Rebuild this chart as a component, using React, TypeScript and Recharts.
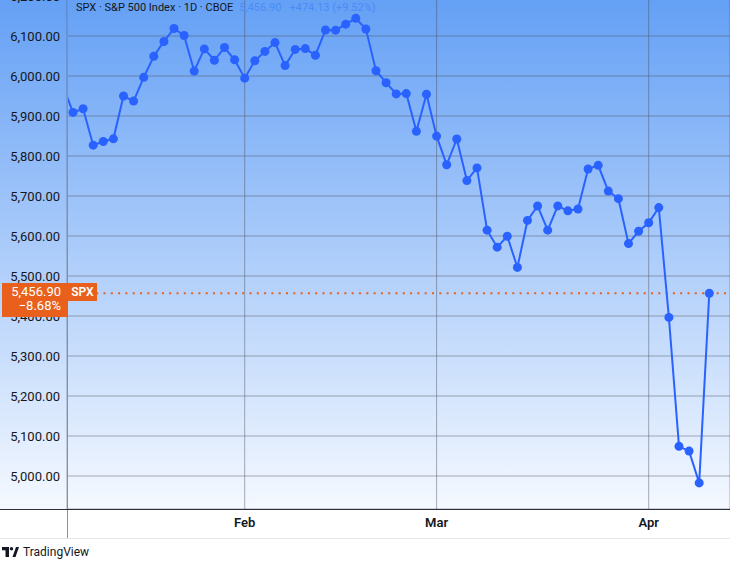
import React from "react";
import { LineChart, Line, XAxis, YAxis, CartesianGrid, ReferenceLine } from "recharts";

// SPX daily closes, Jan 6 – Apr 9 2025
const DATES = [
  "Jan 6", "Jan 7", "Jan 8", "Jan 10", "Jan 13", "Jan 14", "Jan 15", "Jan 16", "Jan 17",
  "Jan 21", "Jan 22", "Jan 23", "Jan 24", "Jan 27", "Jan 28", "Jan 29", "Jan 30", "Jan 31",
  "Feb 3", "Feb 4", "Feb 5", "Feb 6", "Feb 7", "Feb 10", "Feb 11", "Feb 12", "Feb 13",
  "Feb 14", "Feb 18", "Feb 19", "Feb 20", "Feb 21", "Feb 24", "Feb 25", "Feb 26", "Feb 27",
  "Feb 28", "Mar 3", "Mar 4", "Mar 5", "Mar 6", "Mar 7", "Mar 10", "Mar 11", "Mar 12",
  "Mar 13", "Mar 14", "Mar 17", "Mar 18", "Mar 19", "Mar 20", "Mar 21", "Mar 24", "Mar 25",
  "Mar 26", "Mar 27", "Mar 28", "Mar 31", "Apr 1", "Apr 2", "Apr 3", "Apr 4", "Apr 7",
  "Apr 8", "Apr 9",
];

const CLOSES = [
  5975.38, 5909.03, 5918.25, 5827.04, 5836.22, 5842.91, 5949.91, 5937.34, 5996.66,
  6049.24, 6086.37, 6118.71, 6101.24, 6012.28, 6067.7, 6039.31, 6071.17, 6040.53,
  5994.57, 6037.88, 6061.48, 6083.57, 6025.99, 6066.44, 6068.5, 6051.97, 6115.07,
  6114.63, 6129.58, 6144.15, 6117.52, 6013.13, 5983.25, 5955.25, 5956.06, 5861.57,
  5954.5, 5849.72, 5778.15, 5842.63, 5738.52, 5770.2, 5614.56, 5572.07, 5599.3,
  5521.52, 5638.94, 5675.12, 5614.66, 5675.29, 5662.89, 5667.56, 5767.57, 5776.65,
  5712.2, 5693.31, 5580.94, 5611.85, 5633.07, 5670.97, 5396.52, 5074.08, 5062.25,
  4982.77, 5456.9,
];

const MONTH_STARTS = ["Feb 3", "Mar 3", "Apr 1"];
const MONTH_LABELS = ["Feb", "Mar", "Apr"];

const PRICE_TICKS = [5000, 5100, 5200, 5300, 5400, 5500, 5600, 5700, 5800, 5900, 6000, 6100, 6200];

const data = CLOSES.map((close, i) => ({ i, date: DATES[i], close }));
const monthTicks = MONTH_STARTS.map((d) => DATES.indexOf(d));

const last = CLOSES[CLOSES.length - 1];
const prev = CLOSES[CLOSES.length - 2];
const dayChange = last - prev;
const dayPct = (dayChange / prev) * 100;
const rangePct = (last / CLOSES[0] - 1) * 100;

const ORANGE = "#e8601c";
const BLUE = "#2962ff";
const FONT = "Roboto, 'Noto Sans', sans-serif";

// chart geometry (chart is shifted up so the 6,200 tick sits at the top edge)
const CHART_TOP = -20;
const PLOT_H = 529;
const Y_DOMAIN = [4917.5, 6240];
const AXIS_W = 67;
// page y of last price, from the same linear y scale
const lastY = CHART_TOP + ((Y_DOMAIN[1] - last) / (Y_DOMAIN[1] - Y_DOMAIN[0])) * PLOT_H;

const fmt = (v: number) =>
  v.toLocaleString("en-US", { minimumFractionDigits: 2, maximumFractionDigits: 2 });

export default function App() {
  return (
    <div style={{ position: "relative", width: 730, height: 564, overflow: "hidden", background: "#fff", fontFamily: FONT }}>
      <style>{"body{margin:0}"}</style>
      <div style={{ position: "absolute", left: 0, top: 0, width: 730, height: 509, background: "linear-gradient(#64a0f5, #f5f9ff)" }} />
      <div style={{ position: "absolute", left: 0, top: CHART_TOP }}>
        <LineChart width={730} height={PLOT_H + 29} data={data} margin={{ top: 0, right: 0, bottom: 0, left: 0 }}>
          <CartesianGrid stroke="rgba(70,75,90,0.45)" />
          <XAxis
            dataKey="i"
            type="number"
            domain={[0.406, 66.05]}
            allowDataOverflow
            ticks={monthTicks}
            interval={0}
            tickFormatter={(v: number) => MONTH_LABELS[monthTicks.indexOf(v)]}
            height={29}
            axisLine={false}
            tickLine={false}
            tickSize={0}
            tickMargin={9}
            tick={{ fill: "#131722", fontSize: 13, fontWeight: 600 }}
          />
          <YAxis
            type="number"
            domain={Y_DOMAIN}
            allowDataOverflow
            ticks={PRICE_TICKS}
            interval={0}
            tickFormatter={fmt}
            width={AXIS_W}
            axisLine={false}
            tickLine={false}
            tickSize={0}
            tickMargin={7}
            tick={{ fill: "#131722", fontSize: 13 }}
          />
          <ReferenceLine y={last} stroke={ORANGE} strokeWidth={2} strokeDasharray="2 5.3" />
          <Line
            dataKey="close"
            stroke={BLUE}
            strokeWidth={2}
            dot={{ r: 4.5, fill: BLUE, stroke: BLUE, strokeWidth: 0 }}
            activeDot={false}
            isAnimationActive={false}
          />
        </LineChart>
      </div>
      {/* frame lines */}
      <div style={{ position: "absolute", left: AXIS_W, top: 0, width: 1, height: 538, background: "#8a8f9c" }} />
      <div style={{ position: "absolute", left: 0, top: 509, width: 730, height: 1, background: "#2a2e39" }} />
      <div style={{ position: "absolute", left: 0, top: 538, width: 730, height: 1, background: "#e6e8ee" }} />
      {/* last price tags */}
      <div
        style={{
          position: "absolute", left: 2, top: lastY - 10, width: AXIS_W - 1, height: 34,
          background: ORANGE, color: "#fff", fontSize: 13, lineHeight: "14px",
          textAlign: "right", boxSizing: "border-box", paddingRight: 7, paddingTop: 2,
        }}
      >
        <div>{fmt(last)}</div>
        <div>{"\u2212" + Math.abs(rangePct).toFixed(2) + "%"}</div>
      </div>
      <div
        style={{
          position: "absolute", left: AXIS_W + 1, top: lastY - 10, width: 29, height: 18,
          background: ORANGE, color: "#fff", fontSize: 12, fontWeight: 600,
          lineHeight: "18px", textAlign: "center",
        }}
      >
        SPX
      </div>
      {/* header */}
      <div style={{ position: "absolute", left: 76, top: 0, fontSize: 11, lineHeight: "15px", whiteSpace: "nowrap", color: "#131722" }}>
        SPX · S&amp;P 500 Index · 1D · CBOE
        <span style={{ color: "#4a8cf7", marginLeft: 6 }}>{fmt(last)}</span>
        <span style={{ color: "#4a8cf7", marginLeft: 8 }}>
          {(dayChange >= 0 ? "+" : "") + fmt(dayChange) + " (" + (dayPct >= 0 ? "+" : "") + dayPct.toFixed(2) + "%)"}
        </span>
      </div>
      {/* footer logo */}
      <div style={{ position: "absolute", left: 2, top: 545, display: "flex", alignItems: "center", gap: 4, color: "#131722", fontSize: 12 }}>
        <svg width={17} height={10} viewBox="0 0 17 10">
          <path d="M0 0H7V10H3.5V3.3H0Z" fill="#131722" />
          <circle cx={9.5} cy={1.7} r={1.7} fill="#131722" />
          <path d="M10.5 10L14 0H17L13.5 10Z" fill="#131722" />
        </svg>
        <span>TradingView</span>
      </div>
    </div>
  );
}
